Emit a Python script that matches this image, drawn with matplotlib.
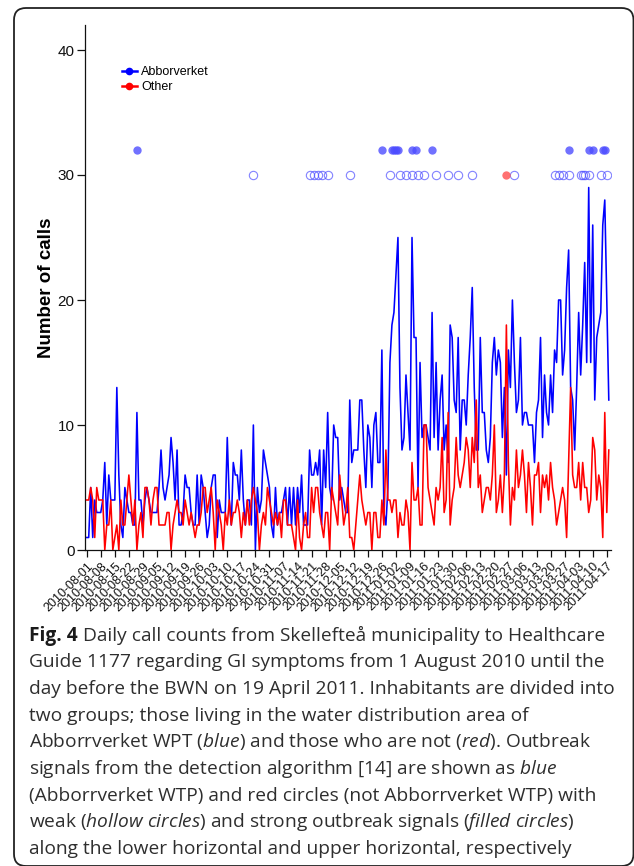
import matplotlib
matplotlib.use('Agg')
import matplotlib.pyplot as plt
import matplotlib.dates as mdates
from matplotlib.patches import FancyBboxPatch
from matplotlib.lines import Line2D
import pandas as pd

plt.rcParams['font.family'] = ['Liberation Sans', 'DejaVu Sans']
plt.rcParams['mathtext.fontset'] = 'custom'
plt.rcParams['mathtext.rm'] = 'Open Sans'
plt.rcParams['mathtext.it'] = 'Open Sans:italic'
plt.rcParams['mathtext.bf'] = 'Open Sans:bold'

# ---------------- data ----------------
start_date = '2010-08-01'
abborverket = [
    1, 1, 5, 1, 4, 3, 3, 3, 4, 7,
    2, 6, 4, 4, 4, 13, 6, 2, 1, 5,
    4, 3, 3, 2, 2, 11, 4, 4, 2, 4,
    5, 4, 3, 3, 3, 3, 5, 8, 5, 4,
    5, 6, 9, 7, 4, 8, 2, 2, 3, 6,
    5, 5, 3, 2, 2, 6, 2, 6, 5, 3,
    1, 2, 5, 6, 6, 1, 4, 3, 3, 3,
    9, 4, 2, 7, 6, 6, 4, 8, 4, 2,
    4, 4, 2, 10, 0, 5, 3, 4, 8, 7,
    6, 5, 2, 1, 5, 2, 3, 3, 4, 5,
    2, 5, 2, 5, 2, 5, 3, 6, 2, 2,
    2, 8, 6, 6, 7, 6, 8, 2, 8, 5,
    11, 5, 4, 10, 9, 9, 4, 5, 4, 3,
    3, 12, 7, 8, 8, 8, 12, 12, 8, 5,
    10, 9, 5, 10, 11, 7, 7, 16, 3, 2,
    5, 15, 18, 19, 22, 25, 13, 8, 9, 14,
    11, 8, 25, 17, 17, 5, 15, 9, 10, 10,
    9, 8, 19, 9, 15, 8, 12, 14, 8, 10,
    7, 18, 17, 12, 11, 17, 8, 12, 12, 10,
    14, 17, 21, 13, 8, 8, 17, 11, 11, 8,
    7, 9, 15, 17, 14, 16, 15, 9, 13, 6,
    16, 13, 20, 15, 11, 12, 17, 10, 11, 11,
    10, 10, 10, 7, 11, 12, 17, 9, 14, 11,
    10, 14, 11, 16, 15, 20, 20, 14, 16, 21,
    24, 13, 12, 8, 13, 19, 14, 18, 23, 15,
    29, 15, 26, 12, 17, 18, 19, 26, 28, 20,
    12,
]
other = [
    4, 4, 5, 4, 1, 5, 4, 4, 4, 0,
    2, 2, 4, 0, 1, 2, 0, 4, 2, 2,
    4, 6, 4, 2, 4, 0, 2, 3, 1, 5,
    5, 4, 2, 4, 5, 5, 2, 2, 2, 2,
    3, 3, 0, 2, 3, 4, 3, 3, 2, 4,
    3, 2, 3, 2, 1, 2, 2, 3, 5, 5,
    3, 4, 5, 3, 0, 4, 3, 2, 0, 3,
    2, 4, 2, 3, 3, 4, 3, 1, 3, 2,
    4, 2, 4, 5, 4, 3, 0, 2, 3, 2,
    5, 4, 3, 2, 3, 2, 3, 1, 4, 4,
    2, 2, 2, 1, 0, 4, 1, 0, 2, 3,
    1, 1, 5, 3, 5, 5, 3, 2, 1, 3,
    3, 0, 5, 4, 3, 2, 6, 4, 2, 3,
    5, 1, 1, 0, 2, 4, 6, 4, 3, 2,
    3, 3, 0, 3, 3, 1, 1, 4, 2, 8,
    4, 4, 3, 4, 4, 1, 3, 2, 2, 4,
    3, 0, 7, 4, 4, 5, 2, 2, 10, 10,
    5, 4, 3, 2, 5, 4, 5, 9, 3, 4,
    11, 2, 4, 5, 9, 6, 5, 6, 7, 9,
    8, 5, 9, 7, 12, 5, 6, 3, 4, 5,
    5, 4, 6, 10, 3, 4, 6, 3, 6, 18,
    7, 2, 5, 4, 8, 5, 6, 8, 6, 3,
    7, 5, 2, 6, 6, 7, 3, 6, 5, 6,
    4, 7, 5, 4, 2, 3, 4, 5, 4, 1,
    7, 13, 6, 5, 5, 7, 4, 7, 5, 5,
    3, 4, 9, 8, 4, 6, 5, 1, 11, 3,
    8,
]
strong_blue = ['2010-08-26', '2010-12-26', '2010-12-31', '2011-01-01', '2011-01-02',
               '2011-01-03', '2011-01-10', '2011-01-12', '2011-01-20', '2011-03-29',
               '2011-04-08', '2011-04-10', '2011-04-15', '2011-04-16']
weak_blue = ['2010-10-23', '2010-11-20', '2010-11-22', '2010-11-24', '2010-11-26',
             '2010-11-29', '2010-12-10', '2010-12-30', '2011-01-04', '2011-01-07',
             '2011-01-10', '2011-01-13', '2011-01-16', '2011-01-22', '2011-01-28',
             '2011-02-02', '2011-02-09', '2011-03-02', '2011-03-22', '2011-03-24',
             '2011-03-26', '2011-03-29', '2011-04-04', '2011-04-05', '2011-04-06',
             '2011-04-08', '2011-04-14', '2011-04-17']
strong_red = ['2011-02-26']
strong_level = 32
weak_level = 30
y_ticks = [0, 10, 20, 30, 40]
tick_start, tick_end = '2010-08-01', '2011-04-17'
series_labels = ['Abborverket', 'Other']

caption_bold = "Fig. 4"
caption_lines = [
    "Daily call counts from Skellefteå municipality to Healthcare",
    "Guide 1177 regarding GI symptoms from 1 August 2010 until the",
    "day before the BWN on 19 April 2011. Inhabitants are divided into",
    "two groups; those living in the water distribution area of",
    r"Abborrverket WPT ($\mathit{blue}$) and those who are not ($\mathit{red}$). Outbreak",
    r"signals from the detection algorithm [14] are shown as $\mathit{blue}$",
    "(Abborrverket WTP) and red circles (not Abborrverket WTP) with",
    r"weak ($\mathit{hollow\ circles}$) and strong outbreak signals ($\mathit{filled\ circles}$)",
    "along the lower horizontal and upper horizontal, respectively",
]

# ---------------- figure ----------------
W, H = 634, 866
fig = plt.figure(figsize=(W / 100, H / 100), dpi=100)


def fx(px):
    return px / W


def fy(py):
    return 1 - py / H


# rounded frame
frame = FancyBboxPatch((14 / 100, (H - 866) / 100), (633.5 - 14) / 100, (866 - 8) / 100,
                       boxstyle='round,pad=0,rounding_size=0.12',
                       transform=fig.dpi_scale_trans, facecolor='none',
                       edgecolor='#222222', linewidth=1.3, clip_on=False)
fig.add_artist(frame)

ax = fig.add_axes([fx(85), fy(550), (611 - 85) / W, (550 - 25) / H])

dates = pd.date_range(start_date, periods=len(abborverket), freq='D')
dates_o = pd.date_range(start_date, periods=len(other), freq='D')
x0 = mdates.date2num(pd.Timestamp(start_date))

ax.plot(dates, abborverket, color='#0000ff', lw=1.15, zorder=2)
ax.plot(dates_o, other, color='#ff0000', lw=1.15, zorder=3)

wb = pd.to_datetime(weak_blue)
sb = pd.to_datetime(strong_blue)
sr = pd.to_datetime(strong_red)
ax.plot(wb, [weak_level] * len(wb), linestyle='none', marker='o', ms=6,
        mfc='none', mec=(0.3, 0.3, 1.0, 0.7), mew=0.8, zorder=4)
ax.plot(sb, [strong_level] * len(sb), linestyle='none', marker='o', ms=6,
        mfc=(0.3, 0.3, 1.0, 0.8), mec='none', zorder=4)
ax.plot(sr, [weak_level] * len(sr), linestyle='none', marker='o', ms=6,
        mfc=(1.0, 0.3, 0.3, 0.8), mec='none', zorder=5)

ax.set_xlim(x0 - 0.85, x0 + 261.1)
ax.set_ylim(0, 42)

for s in ['top', 'right']:
    ax.spines[s].set_visible(False)
for s in ['left', 'bottom']:
    ax.spines[s].set_linewidth(0.9)
    ax.spines[s].set_color('#111111')

ax.set_yticks(y_ticks)
ax.set_yticklabels([str(v) for v in y_ticks])
ax.tick_params(axis='y', length=6, width=0.9, pad=1.5, labelsize=11, colors='#111111')

xt = pd.date_range(tick_start, tick_end, freq='7D')
ax.set_xticks(mdates.date2num(xt))
ax.set_xticklabels([d.strftime('%Y-%m-%d') for d in xt], rotation=45, ha='right',
                   va='top', rotation_mode='anchor', fontsize=9)
ax.tick_params(axis='x', length=5, width=0.9, pad=2.5, colors='#111111')

ax.set_ylabel('Number of calls', fontsize=13.5, fontweight='bold')
ax.yaxis.set_label_coords((55 - 85) / 526, 0.5)

handles = [Line2D([], [], color='#0000ff', lw=1.8, marker='o', ms=4.5),
           Line2D([], [], color='#ff0000', lw=1.8, marker='o', ms=4.5)]
ax.legend(handles, series_labels, loc='upper left',
          bbox_to_anchor=((121.7 - 85) / 526, 1 - (66 - 25) / 525),
          frameon=False, fontsize=9, handlelength=1.2, handletextpad=0.35,
          labelspacing=0.25, borderpad=0, borderaxespad=0)

# ---------------- caption ----------------
cap_color = '#2e2e2e'
x_left, x_right = 29, 603
base0, step = 640.7, 26.66
t_bold = fig.text(fx(x_left), fy(base0), caption_bold, fontsize=12, family='Open Sans',
                  fontweight='bold', color='#1a1a1a', va='baseline', ha='left')
texts = []
for i, line in enumerate(caption_lines):
    t = fig.text(fx(x_left), fy(base0 + step * i), line, fontsize=12,
                 family='Open Sans', color=cap_color, va='baseline', ha='left')
    texts.append(t)

fig.canvas.draw()
wb_ = t_bold.get_window_extent().width
w1 = texts[0].get_window_extent().width
space = 12 / 72 * 100 * 0.26
size = 12 * (x_right - x_left) / (wb_ + space + w1)
for t in texts + [t_bold]:
    t.set_fontsize(size)
fig.canvas.draw()
wb_ = t_bold.get_window_extent().width
space = size / 72 * 100 * 0.26
texts[0].set_x(fx(x_left + wb_ + space))

fig.savefig('out.png', dpi=100)
